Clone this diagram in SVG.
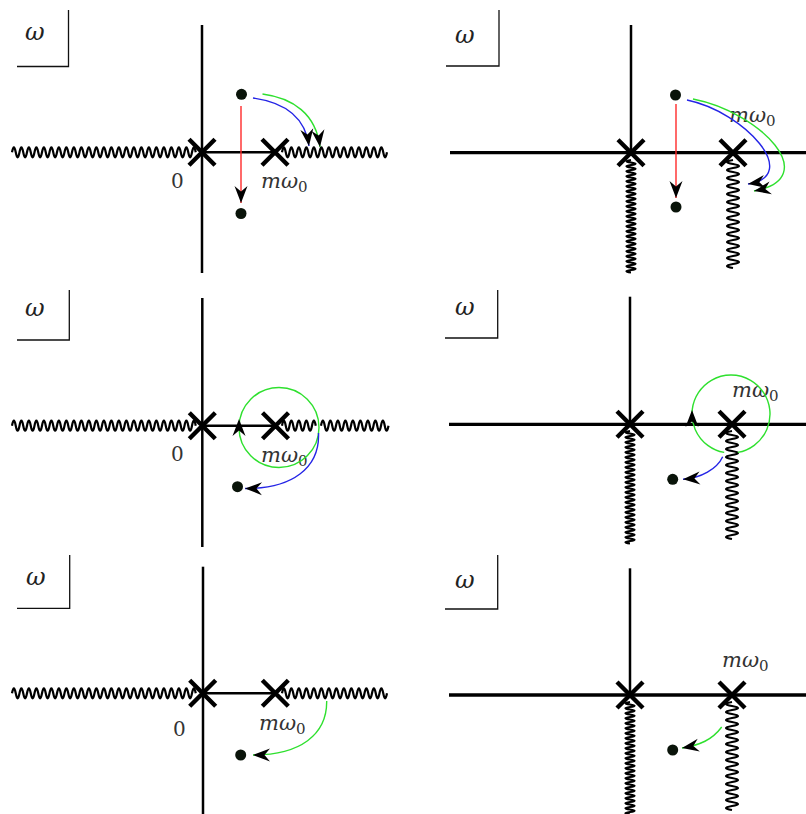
<svg xmlns="http://www.w3.org/2000/svg" width="806" height="814" viewBox="0 0 806 814">
<style>
.ax{stroke:#000;stroke-width:2.5;fill:none}
.axr{stroke:#000;stroke-width:3.3;fill:none}
.box{stroke:#111;stroke-width:1.3;fill:none}
.x{stroke:#000;stroke-width:4.4;fill:none}
.wv{stroke:#000;stroke-width:2.2;fill:none}
.dot{fill:#0a140a}
.om{font-family:"DejaVu Serif","Liberation Serif",serif;font-style:italic;font-size:24px;fill:#222}
.zero{font-family:"DejaVu Serif","Liberation Serif",serif;font-size:20px;fill:#333}
.lab{font-family:"DejaVu Serif","Liberation Serif",serif;font-size:21px;fill:#333}
.red{stroke:#ff2a2a;stroke-width:1.4;fill:none}
.blue{stroke:#2424e6;stroke-width:1.4;fill:none}
.green{stroke:#2ee02e;stroke-width:1.4;fill:none}
</style>
<defs>
<path id="head" d="M0 0 L-17 -6.5 L-11.5 0 L-17 6.5 Z" fill="#000"/>
<marker id="ah" viewBox="-18 -8 19 16" markerWidth="19" markerHeight="16" refX="0" refY="0" orient="auto" markerUnits="userSpaceOnUse">
<path d="M0 0 L-17 -6.5 L-11.5 0 L-17 6.5 Z" fill="#000"/>
</marker>
<path id="wl" class="wv" d="M0 0 q1.875 -10 3.75 0 t3.75 0 t3.75 0 t3.75 0 t3.75 0 t3.75 0 t3.75 0 t3.75 0 t3.75 0 t3.75 0 t3.75 0 t3.75 0 t3.75 0 t3.75 0 t3.75 0 t3.75 0 t3.75 0 t3.75 0 t3.75 0 t3.75 0 t3.75 0 t3.75 0 t3.75 0 t3.75 0 t3.75 0 t3.75 0 t3.75 0 t3.75 0 t3.75 0 t3.75 0 t3.75 0 t3.75 0 t3.75 0 t3.75 0 t3.75 0 t3.75 0 t3.75 0 t3.75 0 t3.75 0 t3.75 0 t3.75 0 t3.75 0 t3.75 0 t3.75 0 t3.75 0 t3.75 0 t3.75 0 t3.75 0 t3.75 0"/>
<path id="wr" class="wv" d="M0 0 q1.875 -10 3.75 0 t3.75 0 t3.75 0 t3.75 0 t3.75 0 t3.75 0 t3.75 0 t3.75 0 t3.75 0 t3.75 0 t3.75 0 t3.75 0 t3.75 0 t3.75 0 t3.75 0 t3.75 0 t3.75 0 t3.75 0 t3.75 0 t3.75 0 t3.75 0 t3.75 0 t3.75 0 t3.75 0 t3.75 0 t3.75 0 t3.75 0 t3.75 0"/>
<path id="wr1" class="wv" d="M0 0 q1.875 -10 3.75 0 t3.75 0 t3.75 0 t3.75 0 t3.75 0 t3.75 0 t3.75 0 t3.75 0 t3.75 0"/>
<path id="wr2" class="wv" d="M0 0 q1.875 -10 3.75 0 t3.75 0 t3.75 0 t3.75 0 t3.75 0 t3.75 0 t3.75 0 t3.75 0 t3.75 0 t3.75 0 t3.75 0 t3.75 0 t3.75 0 t3.75 0 t3.75 0 t3.75 0 t3.75 0 t3.75 0"/>
<path id="vt" class="wv" d="M0 0 q-9 1.25 0 2.5 t0 2.5 t0 2.5 t0 2.5 t0 2.5 t0 2.5 t0 2.5 t0 2.5 t0 2.5 t0 2.5 t0 2.5 t0 2.5 t0 2.5 t0 2.5 t0 2.5 t0 2.5 t0 2.5 t0 2.5 t0 2.5 t0 2.5 t0 2.5 t0 2.5 t0 2.5 t0 2.5 t0 2.5 t0 2.5 t0 2.5 t0 2.5 t0 2.5 t0 2.5 t0 2.5 t0 2.5 t0 2.5 t0 2.5 t0 2.5 t0 2.5 t0 2.5 t0 2.5 t0 2.5 t0 2.5 t0 2.5 t0 2.5 t0 2.5 t0 2.5 t0 2.5"/>
<path id="vw" class="wv" d="M0 0 q-12 2 0 4 t0 4 t0 4 t0 4 t0 4 t0 4 t0 4 t0 4 t0 4 t0 4 t0 4 t0 4 t0 4 t0 4 t0 4 t0 4 t0 4 t0 4 t0 4 t0 4 t0 4 t0 4 t0 4 t0 4 t0 4 t0 4 t0 4"/>
<path id="cross" class="x" d="M-13 -13 L13 13 M-13 13 L13 -13"/>
</defs>

<!-- Panel top-left -->
<g id="panel-tl">
  <g id="tl-omega"><text class="om" x="25" y="40">ω</text><path class="box" d="M68.5 10 V66.5 H17"/></g>
  <g id="tl-axes">
    <line class="ax" x1="202" y1="25" x2="202" y2="273"/>
    <line class="ax" x1="202" y1="152.3" x2="276" y2="152.3"/>
    <use href="#wl" x="12" y="152.3"/>
    <use href="#wr" x="282" y="152.3"/>
  </g>
  <g id="tl-pole0"><use href="#cross" x="202" y="152.3"/></g>
  <g id="tl-pole1"><use href="#cross" x="275" y="152.3"/></g>
  <text class="zero" x="171" y="188">0</text>
  <text class="lab" x="261" y="188"><tspan font-style="italic">mω</tspan><tspan font-size="15" dy="4">0</tspan></text>
  <g id="tl-dot-a"><circle class="dot" cx="241.5" cy="94.3" r="5.5"/></g>
  <g id="tl-dot-b"><circle class="dot" cx="241" cy="213.5" r="5.5"/></g>
</g>

<!-- Panel top-right -->
<g id="panel-tr">
  <g id="tr-omega"><text class="om" x="455" y="43">ω</text><path class="box" d="M499 10 V66 H446"/></g>
  <g id="tr-axes">
    <line class="ax" x1="631" y1="25" x2="631" y2="153"/>
    <line class="axr" x1="450" y1="152.7" x2="806" y2="152.7"/>
    <use href="#vt" x="631" y="160"/>
    <use href="#vw" x="733" y="160"/>
  </g>
  <g id="tr-pole0"><use href="#cross" x="631" y="152.7"/></g>
  <g id="tr-pole1"><use href="#cross" x="733" y="152.7"/></g>
  <text class="lab" x="729" y="122"><tspan font-style="italic">mω</tspan><tspan font-size="15" dy="4">0</tspan></text>
  <g id="tr-dot-a"><circle class="dot" cx="675.5" cy="95" r="5.5"/></g>
  <g id="tr-dot-b"><circle class="dot" cx="676" cy="207" r="5.5"/></g>
</g>

<!-- Panel middle-left -->
<g id="panel-ml">
  <g id="ml-omega"><text class="om" x="25" y="316">ω</text><path class="box" d="M69.3 290 V340 H17"/></g>
  <g id="ml-axes">
    <line class="ax" x1="202.3" y1="298" x2="202.3" y2="547"/>
    <line class="ax" x1="202.3" y1="425.7" x2="276" y2="425.7"/>
    <use href="#wl" x="12" y="425.7"/>
    <use href="#wr1" x="282" y="425.7"/>
    <use href="#wr2" x="321" y="425.7"/>
  </g>
  <g id="ml-pole0"><use href="#cross" x="202.3" y="425.7"/></g>
  <g id="ml-pole1"><use href="#cross" x="275.5" y="425.7"/></g>
  <text class="zero" x="171" y="461">0</text>
  <text class="lab" x="261" y="462"><tspan font-style="italic">mω</tspan><tspan font-size="15" dy="4">0</tspan></text>
  <g id="ml-dot"><circle class="dot" cx="237.5" cy="486.7" r="5.5"/></g>
</g>

<!-- Panel middle-right -->
<g id="panel-mr">
  <g id="mr-omega"><text class="om" x="455" y="315">ω</text><path class="box" d="M497.7 290 V338 H445"/></g>
  <g id="mr-axes">
    <line class="ax" x1="630" y1="296.7" x2="630" y2="425"/>
    <line class="axr" x1="449" y1="424.3" x2="806" y2="424.3"/>
    <use href="#vt" x="630" y="431"/>
    <use href="#vw" x="732" y="431"/>
  </g>
  <g id="mr-pole0"><use href="#cross" x="630" y="424.3"/></g>
  <g id="mr-pole1"><use href="#cross" x="732" y="424.3"/></g>
  <text class="lab" x="732" y="397"><tspan font-style="italic">mω</tspan><tspan font-size="15" dy="4">0</tspan></text>
  <g id="mr-dot"><circle class="dot" cx="672.7" cy="479.3" r="5.5"/></g>
</g>

<!-- Panel bottom-left -->
<g id="panel-bl">
  <g id="bl-omega"><text class="om" x="26" y="585">ω</text><path class="box" d="M69.7 555 V608.3 H17"/></g>
  <g id="bl-axes">
    <line class="ax" x1="203" y1="566.7" x2="203" y2="814"/>
    <line class="ax" x1="203" y1="693.3" x2="276" y2="693.3"/>
    <use href="#wl" x="12" y="693.3"/>
    <use href="#wr" x="282" y="693.3"/>
  </g>
  <g id="bl-pole0"><use href="#cross" x="202.7" y="693.3"/></g>
  <g id="bl-pole1"><use href="#cross" x="275.3" y="693.3"/></g>
  <text class="zero" x="173" y="736">0</text>
  <text class="lab" x="259" y="730"><tspan font-style="italic">mω</tspan><tspan font-size="15" dy="4">0</tspan></text>
  <g id="bl-dot"><circle class="dot" cx="240.7" cy="755" r="5.5"/></g>
</g>

<!-- Panel bottom-right -->
<g id="panel-br">
  <g id="br-omega"><text class="om" x="455" y="588">ω</text><path class="box" d="M497.7 555 V609 H445"/></g>
  <g id="br-axes">
    <line class="ax" x1="630" y1="568.3" x2="630" y2="696"/>
    <line class="axr" x1="449" y1="695" x2="806" y2="695"/>
    <use href="#vt" x="630" y="702"/>
    <use href="#vw" x="732" y="702"/>
  </g>
  <g id="br-pole0"><use href="#cross" x="630" y="695"/></g>
  <g id="br-pole1"><use href="#cross" x="732" y="695"/></g>
  <text class="lab" x="722" y="667"><tspan font-style="italic">mω</tspan><tspan font-size="15" dy="4">0</tspan></text>
  <g id="br-dot"><circle class="dot" cx="672.7" cy="750" r="5.5"/></g>
</g>

<!-- Connectors -->
<g id="connectors">
  <path class="red" d="M241 106 V203" marker-end="url(#ah)"/>
  <path class="blue" d="M253 98 C282 102 305 115 309 146" marker-end="url(#ah)"/>
  <path class="green" d="M262.5 94 C293 98 316 114 320 147" marker-end="url(#ah)"/>

  <path class="red" d="M676 104 V198" marker-end="url(#ah)"/>
  <path class="blue" d="M687 100 C745 112 802 176 748 184" marker-end="url(#ah)"/>
  <path class="green" d="M693 99 C760 112 824 178 754 191" marker-end="url(#ah)"/>

  <circle class="green" cx="279" cy="427.5" r="40"/>
  <use href="#head" transform="translate(239 419) rotate(-90)"/>
  <path class="blue" d="M318.5 433 C320 468 292 489 245 488.5" marker-end="url(#ah)"/>

  <path class="green" d="M724.2 452.4 A39 39 0 1 1 737.8 452.4"/>
  <use href="#head" transform="translate(692 410) rotate(-90)"/>
  <path class="blue" d="M722.7 456.7 C717 469 701 478 683 479.3" marker-end="url(#ah)"/>

  <path class="green" d="M326.7 701 C327 735 300 755 253 755" marker-end="url(#ah)"/>

  <path class="green" d="M721.7 727 C712 740 700 745 682 748" marker-end="url(#ah)"/>
</g>
</svg>
